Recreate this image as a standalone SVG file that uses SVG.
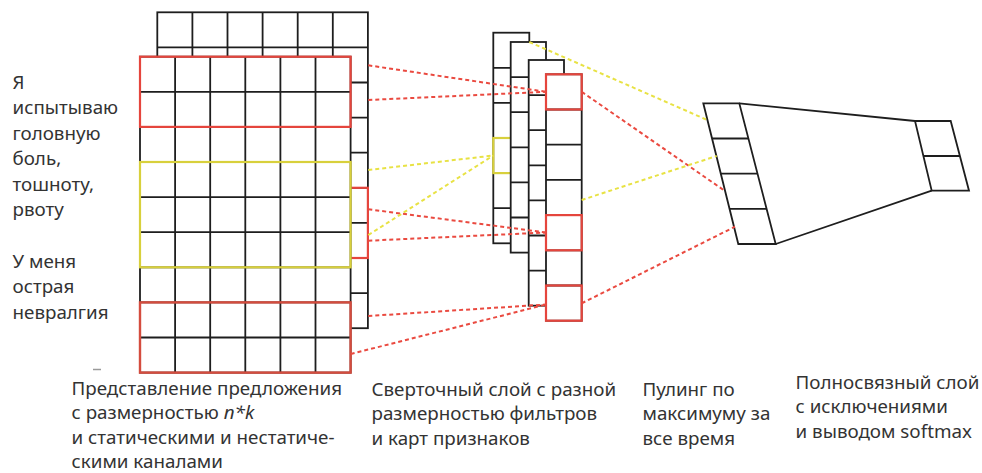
<svg xmlns="http://www.w3.org/2000/svg" width="982" height="473" viewBox="0 0 982 473">
  <style>
    .grid { fill: #ffffff; stroke: #1e1e1e; stroke-width: 1.8; }
    .gl { fill: none; stroke: #1e1e1e; stroke-width: 1.8; }
    .hl-red { fill: none; stroke: #e5453d; stroke-width: 2.2; }
    .hl-red2 { fill: none; stroke: #d44c3e; stroke-width: 2.4; }
    .hl-yel { fill: none; stroke: #d8d03c; stroke-width: 2.2; }
    .dash-red { fill: none; stroke: #ea4a40; stroke-width: 2; stroke-dasharray: 4 3; }
    .dash-yel { fill: none; stroke: #e8e244; stroke-width: 2; stroke-dasharray: 4 3; }
    .lbl { font-family: "Noto Sans", "Open Sans", "DejaVu Sans", sans-serif; font-size: 18.8px; fill: #333333; }
  </style>

  <!-- sentence matrix: back (static) channel -->
  <g id="channel-back">
    <rect class="grid" x="157.3" y="12.3" width="210.6" height="315.9"/>
    <path class="gl" d="M192.4 12.3V328.2M227.5 12.3V328.2M262.6 12.3V328.2M297.7 12.3V328.2M332.8 12.3V328.2
      M157.3 47.4H367.9M157.3 82.5H367.9M157.3 117.6H367.9M157.3 152.7H367.9M157.3 187.8H367.9
      M157.3 222.9H367.9M157.3 258H367.9M157.3 293.1H367.9"/>
    <rect class="hl-red" x="332.8" y="187.8" width="35.1" height="70.2"/>
  </g>

  <!-- sentence matrix: front (non-static) channel -->
  <g id="channel-front">
    <rect class="grid" x="140" y="56.7" width="210.6" height="315.9"/>
    <path class="gl" d="M175.1 56.7V372.6M210.2 56.7V372.6M245.3 56.7V372.6M280.4 56.7V372.6M315.5 56.7V372.6
      M140 91.8H350.6M140 126.9H350.6M140 162H350.6M140 197.1H350.6M140 232.2H350.6
      M140 267.3H350.6M140 302.4H350.6M140 337.5H350.6"/>
    <rect class="hl-red" x="140" y="56.7" width="210.6" height="70.2"/>
    <rect class="hl-yel" x="140" y="162" width="210.6" height="105.3"/>
    <rect class="hl-red2" x="140" y="302.4" width="210.6" height="70.2"/>
  </g>

  <!-- convolution feature maps, stacked back to front -->
  <g id="feature-map-1">
    <rect class="grid" x="493.3" y="32.7" width="36" height="210.6"/>
    <path class="gl" d="M493.3 67.8H529.3M493.3 102.9H529.3M493.3 138H529.3M493.3 173.1H529.3M493.3 208.2H529.3"/>
    <rect class="hl-yel" x="493.3" y="138" width="36" height="35.1"/>
  </g>
  <g id="feature-map-2">
    <rect class="grid" x="510.7" y="42" width="35.3" height="210.6"/>
    <path class="gl" d="M510.7 77.1H546M510.7 112.2H546M510.7 147.3H546M510.7 182.4H546M510.7 217.5H546"/>
  </g>
  <g id="feature-map-3">
    <rect class="grid" x="528.7" y="60" width="35.3" height="245.7"/>
    <path class="gl" d="M528.7 95.1H564M528.7 130.2H564M528.7 165.3H564M528.7 200.4H564M528.7 235.5H564M528.7 270.6H564"/>
  </g>
  <g id="feature-map-4">
    <rect class="grid" x="546" y="74.3" width="35.7" height="246.4"/>
    <path class="gl" d="M546 109.5H581.7M546 144.7H581.7M546 179.9H581.7M546 215.1H581.7M546 250.3H581.7M546 285.5H581.7"/>
    <rect class="hl-red" x="546" y="74.3" width="35.7" height="35.2"/>
    <rect class="hl-red" x="546" y="215.1" width="35.7" height="35.2"/>
    <rect class="hl-red" x="546" y="285.5" width="35.7" height="35.2"/>
  </g>

  <!-- max-over-time pooling vector -->
  <g id="pooling">
    <path class="grid" d="M703.3 103.3H739.3L775.7 244H738.3Z"/>
    <path class="gl" d="M712.1 138.5H748.4M720.9 173.7H757.5M729.7 208.8H766.6"/>
  </g>

  <!-- fully connected layer with softmax output -->
  <g id="fully-connected">
    <path class="gl" d="M739.3 103.3L915 121M775.7 244L931.7 190.7"/>
    <path class="grid" d="M915 121H950.7L969 190.7H931.7Z"/>
    <path class="gl" d="M923.4 156H959.8"/>
  </g>

  <!-- dashed connectors between layers -->
  <g id="connectors">
    <path class="dash-red" d="M368.3 65.3L546 91.8"/>
    <path class="dash-red" d="M368.3 100L546 91.8"/>
    <path class="dash-red" d="M581.7 91.8L725 191"/>
    <path class="dash-red" d="M368.3 209.3L546 232.5"/>
    <path class="dash-red" d="M368.3 240.7L546 232.5"/>
    <path class="dash-red" d="M368.3 316L546 304.5"/>
    <path class="dash-red" d="M350.7 354L546 304.5"/>
    <path class="dash-red" d="M581.7 303.3L735 226.7"/>
    <path class="dash-yel" d="M368.3 170L493.3 155.5"/>
    <path class="dash-yel" d="M368.3 235L493.3 155.5"/>
    <path class="dash-yel" d="M529.3 42L707.3 120"/>
    <path class="dash-yel" d="M581.7 200L716.7 156"/>
  </g>

  <!-- small stray mark below the sentences -->
  <path d="M93 369.5H101" stroke="#9a9a9a" stroke-width="1.5"/>

  <!-- input sentences -->
  <g id="sentences">
    <text class="lbl" x="12.5">
      <tspan x="12.5" y="88.5">Я</tspan>
      <tspan x="12.5" y="114">испытываю</tspan>
      <tspan x="12.5" y="139.5">головную</tspan>
      <tspan x="12.5" y="165">боль,</tspan>
      <tspan x="12.5" y="190.5">тошноту,</tspan>
      <tspan x="12.5" y="216">рвоту</tspan>
      <tspan x="12.5" y="267.5">У меня</tspan>
      <tspan x="12.5" y="293">острая</tspan>
      <tspan x="12.5" y="318.5">невралгия</tspan>
    </text>
  </g>

  <!-- layer captions -->
  <g id="captions">
    <text class="lbl">
      <tspan x="71.5" y="395">Представление предложения</tspan>
      <tspan x="71.5" y="419.3">с размерностью <tspan font-style="italic">n*k</tspan></tspan>
      <tspan x="71.5" y="443.6">и статическими и нестатиче-</tspan>
      <tspan x="71.5" y="467.6">скими каналами</tspan>
    </text>
    <text class="lbl">
      <tspan x="371.5" y="395.5">Сверточный слой с разной</tspan>
      <tspan x="371.5" y="420">размерностью фильтров</tspan>
      <tspan x="371.5" y="444.5">и карт признаков</tspan>
    </text>
    <text class="lbl">
      <tspan x="642.5" y="395.5">Пулинг по</tspan>
      <tspan x="642.5" y="420">максимуму за</tspan>
      <tspan x="642.5" y="444.5">все время</tspan>
    </text>
    <text class="lbl">
      <tspan x="795.5" y="388.5">Полносвязный слой</tspan>
      <tspan x="795.5" y="413">с исключениями</tspan>
      <tspan x="795.5" y="437.5">и выводом softmax</tspan>
    </text>
  </g>
</svg>
